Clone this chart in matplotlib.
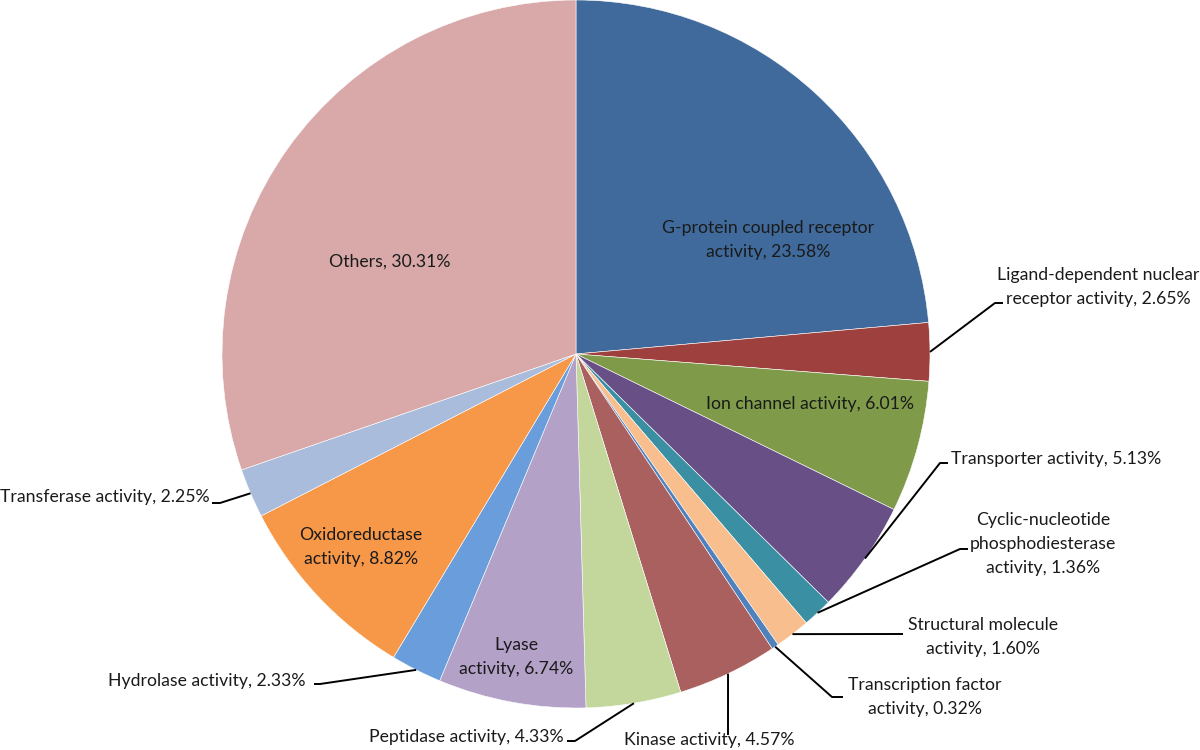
import numpy as np
import matplotlib
matplotlib.use("Agg")
import matplotlib.pyplot as plt

plt.rcParams['font.family'] = ['Lato', 'DejaVu Sans']

# slices, clockwise from 12 o'clock
labels = ["G-protein coupled receptor\nactivity", "Ligand-dependent nuclear\nreceptor activity",
          "Ion channel activity", "Transporter activity",
          "Cyclic-nucleotide\nphosphodiesterase\nactivity", "Structural molecule\nactivity",
          "Transcription factor\nactivity", "Kinase activity", "Peptidase activity",
          "Lyase\nactivity", "Hydrolase activity", "Oxidoreductase\nactivity",
          "Transferase activity", "Others"]
values = [23.58, 2.65, 6.01, 5.13, 1.36, 1.60, 0.32, 4.57, 4.33, 6.74, 2.33, 8.82, 2.25, 30.31]
colors = ["#406A9B", "#9E403E", "#7F9B49", "#684F86", "#3A8FA3", "#F8BE8E", "#4F81BD",
          "#AA605E", "#C3D79C", "#B3A1C8", "#6A9DDB", "#F79748", "#A9BCDC", "#D9A9A9"]

# layout in pixels: label centre, and for outside labels the elbow + end of the leader
cx, cy, R = 576, 354, 354
inside = {0: (768, 240), 2: (810, 404), 9: (516, 657), 11: (361, 547), 13: (390, 262)}
outside = {
    1: ((1098, 287), [(995, 303), (1003, 303)]),
    3: ((1056, 459), [(940, 463), (948, 463)]),
    4: ((1043, 544), [(960, 549), (968, 549)]),
    5: ((983, 637), [(903, 634)]),
    6: ((925, 697), [(832, 697), (843, 697)]),
    7: ((709, 740), [(728, 735)]),
    8: ((466, 737), [(575, 741), (567, 741)]),
    10: ((207, 681), [(320, 684), (314, 684)]),
    12: ((105, 497), [(220, 503), (212, 503)]),
}


def px(p):
    return ((p[0] - cx) / R, (cy - p[1]) / R)


fig = plt.figure(figsize=(12, 7.5), dpi=100)
ax = fig.add_axes([0, 0, 1, 1])
wedges, _ = ax.pie(values, colors=colors, startangle=90, counterclock=False,
                   radius=1, center=(0, 0),
                   wedgeprops=dict(edgecolor="white", linewidth=0.4))
ax.set_xlim(-cx / R, (1200 - cx) / R)
ax.set_ylim(-(750 - cy) / R, cy / R)
ax.set_aspect("equal")
ax.axis("off")

txt = "#1a1a1a"
fs = 12.7
for i, pos in inside.items():
    x, y = px(pos)
    ax.text(x, y, "%s, %.2f%%" % (labels[i], values[i]), ha="center", va="center",
            fontsize=fs, color=txt, linespacing=1.6)

for i, (pos, pts) in outside.items():
    w = wedges[i]
    mid = np.deg2rad((w.theta1 + w.theta2) / 2)
    xs = [np.cos(mid)]
    ys = [np.sin(mid)]
    for p in pts:
        q = px(p)
        xs.append(q[0])
        ys.append(q[1])
    ax.plot(xs, ys, color="black", lw=1.4, solid_capstyle="butt")
    x, y = px(pos)
    ax.text(x, y, "%s, %.2f%%" % (labels[i], values[i]), ha="center", va="center",
            fontsize=fs, color=txt, linespacing=1.6)

fig.savefig("out.png", dpi=100)
